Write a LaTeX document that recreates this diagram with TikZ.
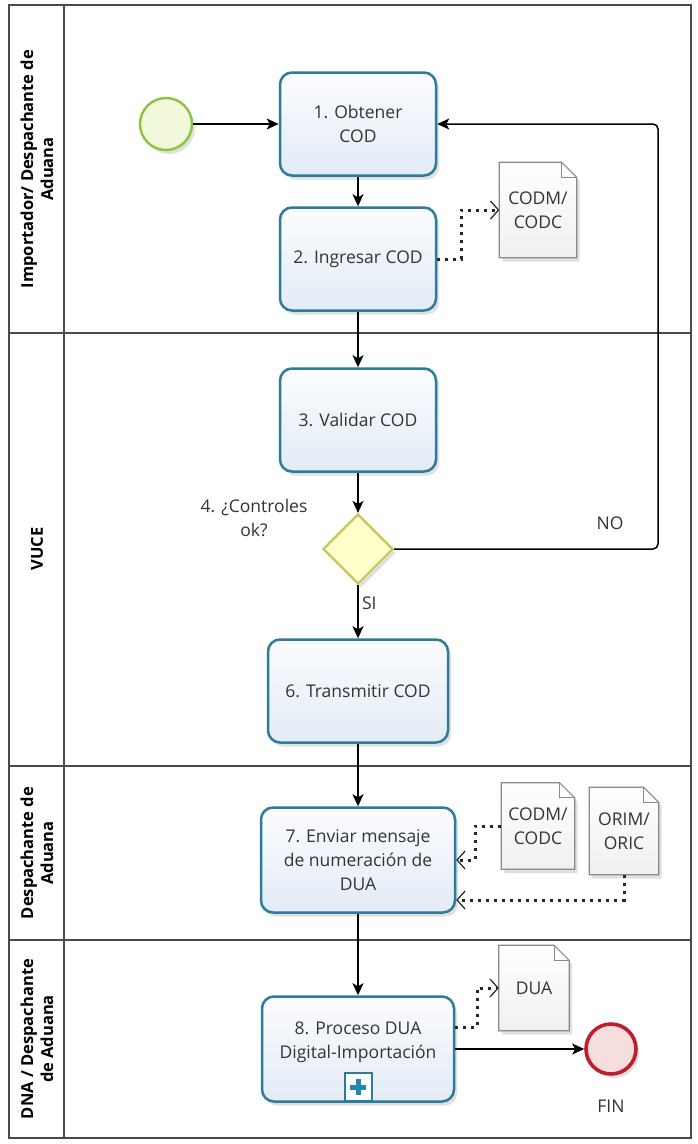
\documentclass[tikz,border=0pt]{standalone}
\usepackage{fontspec}
\setmainfont{Open Sans}
\usetikzlibrary{arrows.meta,shapes.geometric,shadows,calc}
\pgfdeclarelayer{bgfill}
\pgfdeclarelayer{docbg}
\pgfsetlayers{bgfill,docbg,main}
\definecolor{taskborder}{HTML}{2D7C9C}
\definecolor{tasktop}{HTML}{FBFCFE}
\definecolor{taskbot}{HTML}{E3EBF6}
\definecolor{startborder}{HTML}{8CC43F}
\definecolor{startfill}{HTML}{F1F8DC}
\definecolor{endborder}{HTML}{BE1E2D}
\definecolor{endfill}{HTML}{F6DEDF}
\definecolor{gwborder}{HTML}{C6C65A}
\definecolor{gwfill}{HTML}{FFFFCC}
\definecolor{lanecol}{HTML}{4A4A4A}
\definecolor{docborder}{HTML}{8A8A8A}
\definecolor{textgrey}{HTML}{333333}
\definecolor{plusblue}{HTML}{2189AE}
\tikzset{
  basefont/.style={font=\fontsize{17.5}{24}\selectfont, text=textgrey},
  softshadow/.style={drop shadow={shadow xshift=3pt, shadow yshift=-4pt, opacity=0.12, fill=black}},
  task/.style={basefont, rectangle, rounded corners=12pt, draw=taskborder, line width=2.5pt,
    top color=tasktop, bottom color=taskbot, minimum width=156pt, minimum height=103pt,
    align=center, inner sep=4pt, softshadow},
  startev/.style={circle, draw=startborder, line width=2.4pt, fill=startfill, minimum size=52pt, inner sep=0pt, softshadow},
  endev/.style={circle, draw=endborder, line width=3.6pt, fill=endfill, minimum size=50pt, inner sep=0pt, softshadow},
  gateway/.style={diamond, draw=gwborder, line width=2.2pt, fill=gwfill, minimum width=70pt, minimum height=70pt, inner sep=0pt, softshadow},
  docbox/.style={basefont, rectangle, draw=none, fill=none, align=center, inner sep=0pt},
  docline/.style={draw=docborder, line width=1.2pt, top color=white, bottom color=gray!12, softshadow},
  docfold/.style={draw=docborder, line width=1.2pt},
  lanelabel/.style={font=\fontsize{16.5}{20}\selectfont\bfseries, text=black, rotate=90, align=center},
  lbl/.style={basefont, align=center},
  flow/.style={draw=black, line width=1.5pt, -{Stealth[length=12pt,width=11pt,inset=3pt]}},
  assoc/.style={draw=black!85, line width=3pt, dash pattern=on 3pt off 5pt,
    -{Straight Barb[length=8pt,width=18pt,line width=1.2pt]}},
  laneline/.style={draw=lanecol, line width=1.3pt},
  plusbox/.style={rectangle, draw=taskborder, line width=2pt, fill=white, minimum width=27pt, minimum height=28pt, inner sep=0pt},
  plusline/.style={draw=plusblue, line width=5pt}
}
\newcommand{\docoutline}[1]{%
  \begin{pgfonlayer}{docbg}
    \draw[docline] (#1.south west) -- (#1.north west) -- ($(#1.north east)+(-15,0)$)
      -- ($(#1.north east)+(0,15)$) -- (#1.south east) -- cycle;
    \draw[docfold] ($(#1.north east)+(-15,0)$) -- ($(#1.north east)+(-15,15)$) -- ($(#1.north east)+(0,15)$);
  \end{pgfonlayer}}
\begin{document}
\begin{tikzpicture}[x=1pt, y=-1pt]
\useasboundingbox (0,0) rectangle (698,1144);
\begin{pgfonlayer}{bgfill}
  \fill[white] (0,0) rectangle (698,1144);
\end{pgfonlayer}

% pool and lanes
\draw[laneline] (9,5) rectangle (691,1138);
\draw[laneline] (64,5) -- (64,1138);
\draw[laneline] (9,333) -- (691,333);
\draw[laneline] (9,766) -- (691,766);
\draw[laneline] (9,940) -- (691,940);

\node[lanelabel] (lane1) at (37,169) {Importador/ Despachante de\\Aduana};
\node[lanelabel] (lane2) at (37,549) {VUCE};
\node[lanelabel] (lane3) at (37,853) {Despachante de\\Aduana};
\node[lanelabel] (lane4) at (37,1039) {DNA / Despachante\\de Aduana};

% events, tasks, gateway
\node[startev] (start) at (166,124) {};
\node[task] (t1) at (358,124) {1. Obtener\\COD};
\node[task] (t2) at (358,259) {2. Ingresar COD};
\node[task] (t3) at (358,420) {3. Validar COD};
\node[gateway] (g4) at (358,549) {};
\node[lbl] (g4lbl) at (254,518) {4. ¿Controles\\ok?};
\node[task, minimum width=180pt] (t6) at (358,691) {6. Transmitir COD};
\node[task, minimum width=194pt, minimum height=105pt] (t7) at (358,860) {7. Enviar mensaje\\de numeración de\\DUA};
\node[task, minimum width=192pt, minimum height=105pt, text depth=18pt] (t8) at (358,1049) {8. Proceso DUA\\Digital-Importación};
\node[plusbox] (m8) at (358,1087) {};
\draw[plusline] ($(m8.center)+(0,-8)$) -- ($(m8.center)+(0,8)$);
\draw[plusline] ($(m8.center)+(-8,0)$) -- ($(m8.center)+(8,0)$);
\node[endev] (fin) at (611,1049) {};
\node[lbl] (finlbl) at (611,1106) {FIN};

% data objects
\node[docbox, minimum width=77pt, minimum height=95pt] (d1) at (538,210) {CODM/\\CODC};
\docoutline{d1}
\node[docbox, minimum width=73pt, minimum height=86pt] (d2) at (538,826) {CODM/\\CODC};
\docoutline{d2}
\node[docbox, minimum width=69pt, minimum height=87pt] (d3) at (624,831) {ORIM/\\ORIC};
\docoutline{d3}
\node[docbox, minimum width=70pt, minimum height=85pt] (d4) at (534,988) {DUA};
\docoutline{d4}

% sequence flows
\draw[flow] (start) -- (t1);
\draw[flow] (t1) -- (t2);
\draw[flow] (t2) -- (t3);
\draw[flow] (t3) -- (g4);
\draw[flow] (g4.south) -- node[lbl, right, pos=0.35] (si) {SI} (t6.north);
\coordinate (loopa) at (658,549);
\coordinate (loopb) at (658,124);
\draw[flow, rounded corners=5pt] (g4.east) -- (loopa) -- (loopb) -- (t1.east);
\node[lbl] (no) at (610,523) {NO};
\draw[flow] (t6) -- (t7);
\draw[flow] (t7) -- (t8);
\draw[flow] (t8.east) -- (fin.west);

% associations
\draw[assoc] (t2.east) -- ++(24,0) |- (d1.west);
\draw[assoc] (d2.west) -- ++(-26,0) |- (t7.east);
\draw[assoc] (d3.south) |- ($(t7.east)+(0,40)$);
\draw[assoc] ($(t8.east)+(0,-22)$) -- ++(22,0) |- (d4.west);
\end{tikzpicture}
\end{document}
